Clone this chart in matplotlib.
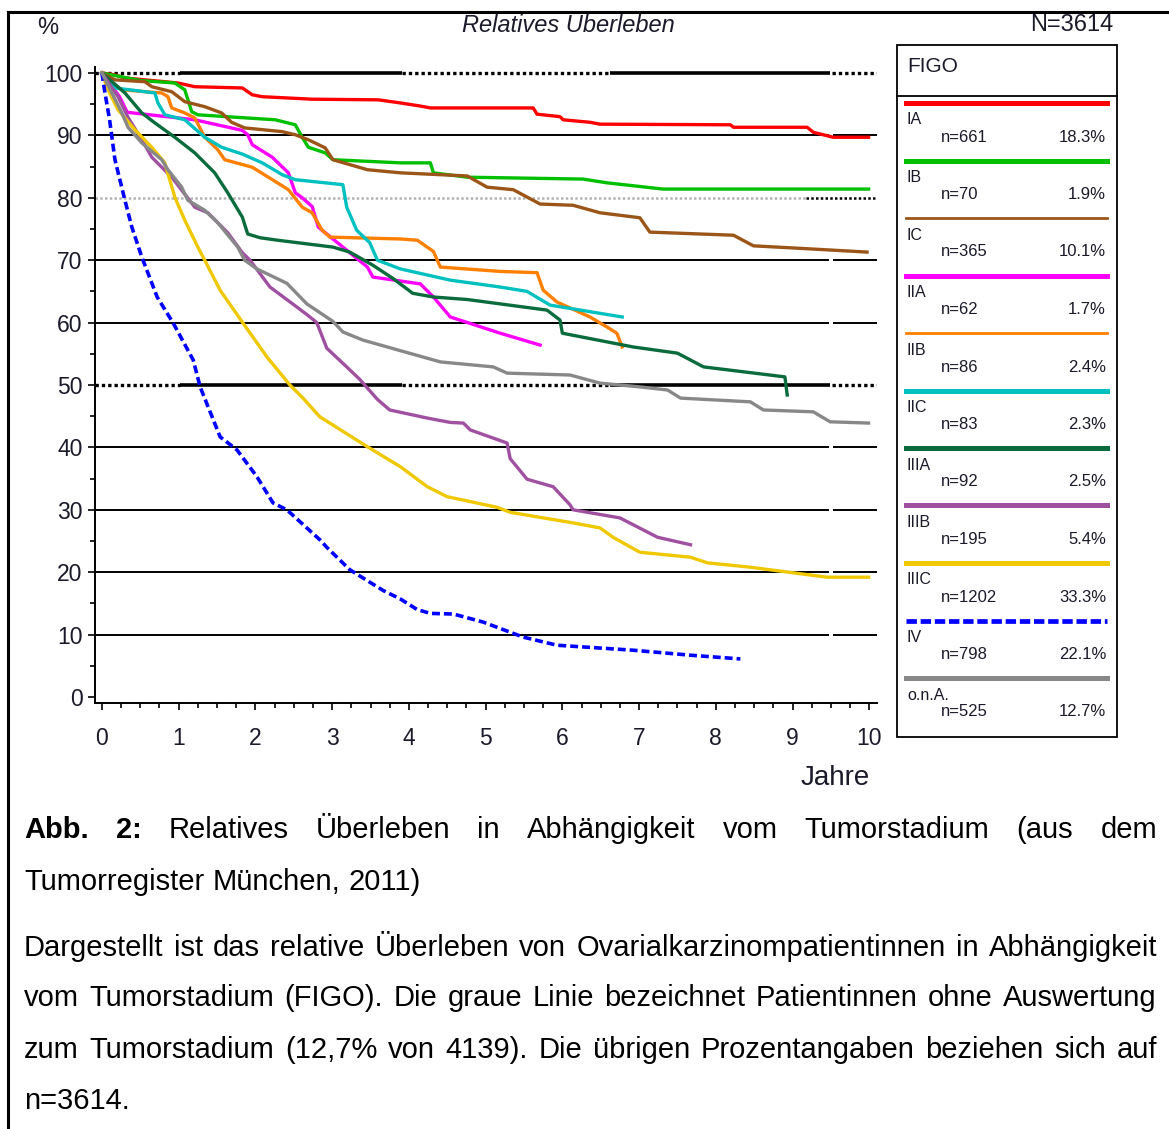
import numpy as np
import matplotlib.pyplot as plt
from matplotlib.lines import Line2D
from matplotlib.patches import Rectangle

plt.rcParams["font.family"] = ["Liberation Sans", "DejaVu Sans"]

# Relatives Ueberleben (%) ueber Jahre, je FIGO-Stadium
ia_t = [0, 0.17, 0.30, 0.99, 1.21, 1.83, 1.96, 2.09, 2.74, 3.60, 3.89, 4.15, 4.28, 5.62, 5.67, 5.97, 6.01, 6.36, 6.49, 8.19, 8.23, 9.19, 9.27, 9.53, 9.99]
ia_s = [100, 99.7, 99.2, 98.4, 97.8, 97.6, 96.5, 96.2, 95.8, 95.7, 95.2, 94.7, 94.4, 94.4, 93.4, 93.0, 92.5, 92.1, 91.8, 91.7, 91.3, 91.3, 90.5, 89.7, 89.7]

ib_t = [0, 0.5, 0.95, 1.08, 1.17, 1.25, 2.26, 2.52, 2.61, 2.69, 2.91, 3.01, 3.89, 4.28, 4.32, 4.76, 6.27, 6.58, 7.31, 9.99]
ib_s = [100, 98.8, 98.4, 97.3, 93.8, 93.3, 92.5, 91.7, 89.7, 88.1, 87.2, 86.1, 85.6, 85.6, 84.0, 83.3, 83.0, 82.4, 81.4, 81.4]

ic_t = [0, 0.17, 0.56, 0.65, 0.91, 1.08, 1.34, 1.56, 1.69, 1.86, 2.35, 2.52, 2.69, 2.91, 3.01, 3.46, 3.89, 4.76, 5.02, 5.36, 5.71, 6.14, 6.49, 7.01, 7.14, 8.23, 8.49, 9.10, 9.97]
ic_s = [100, 98.9, 98.6, 97.8, 97.0, 95.4, 94.6, 93.6, 92.1, 91.2, 90.6, 90.1, 89.3, 88.0, 86.1, 84.5, 84.0, 83.5, 81.7, 81.3, 79.0, 78.8, 77.6, 76.8, 74.5, 74.0, 72.3, 71.9, 71.3]

iia_t = [0, 0.15, 0.23, 0.33, 1.21, 1.83, 1.90, 1.96, 2.22, 2.43, 2.52, 2.61, 2.74, 2.82, 2.91, 3.46, 3.53, 4.15, 4.32, 4.54, 5.19, 5.71]
iia_s = [100, 97.5, 96.2, 93.7, 92.5, 90.8, 90.1, 88.5, 86.5, 84.0, 80.8, 80.0, 78.6, 75.3, 74.4, 68.9, 67.3, 66.2, 64.1, 60.9, 58.3, 56.4]

iib_t = [0, 0.12, 0.26, 0.78, 0.86, 0.91, 1.08, 1.21, 1.34, 1.51, 1.60, 1.96, 2.43, 2.61, 2.74, 2.87, 2.97, 3.89, 4.11, 4.32, 4.41, 5.19, 5.67, 5.75, 5.93, 6.36, 6.58, 6.71, 6.78]
iib_s = [100, 98.5, 97.3, 96.8, 96.2, 94.4, 93.6, 92.8, 89.7, 87.7, 86.1, 84.9, 81.3, 78.5, 77.6, 74.8, 73.7, 73.4, 73.2, 71.4, 68.9, 68.2, 68.0, 65.2, 63.3, 60.9, 59.3, 58.3, 56.1]

iic_t = [0, 0.17, 0.69, 0.73, 0.82, 1.08, 1.34, 1.56, 1.83, 2.09, 2.35, 2.52, 2.91, 3.14, 3.19, 3.32, 3.49, 3.59, 3.89, 4.54, 5.19, 5.54, 5.84, 6.78]
iic_s = [100, 97.6, 96.8, 95.2, 93.3, 92.5, 89.7, 88.1, 87.0, 85.6, 83.7, 82.9, 82.4, 82.1, 78.5, 74.8, 72.8, 70.0, 68.6, 66.8, 65.7, 65.0, 62.8, 60.9]

iiia_t = [0, 0.30, 0.52, 0.69, 0.95, 1.21, 1.47, 1.64, 1.83, 1.90, 2.06, 2.29, 3.01, 3.23, 3.53, 3.79, 4.05, 4.32, 4.76, 5.80, 5.97, 6.00, 6.92, 7.50, 7.84, 8.90, 8.93]
iiia_s = [100, 96.8, 93.6, 92.0, 89.7, 87.2, 84.0, 80.8, 76.9, 74.2, 73.6, 73.2, 72.1, 71.3, 69.2, 67.1, 64.7, 64.1, 63.7, 62.0, 60.4, 58.3, 56.1, 55.1, 52.9, 51.3, 48.4]

iiib_t = [0, 0.21, 0.34, 0.52, 0.65, 0.91, 1.21, 1.38, 1.64, 1.83, 1.93, 2.19, 2.54, 2.67, 2.80, 2.93, 3.19, 3.36, 3.59, 3.75, 4.24, 4.54, 4.71, 4.80, 5.28, 5.32, 5.54, 5.88, 6.10, 6.14, 6.75, 7.24, 7.67]
iiib_s = [100, 96.2, 92.9, 89.3, 86.5, 83.3, 78.5, 77.6, 74.4, 71.2, 70.0, 65.7, 62.5, 61.3, 60.0, 55.9, 52.9, 50.9, 47.7, 46.0, 44.7, 44.0, 43.9, 42.8, 40.7, 38.2, 34.9, 33.7, 30.8, 30.0, 28.7, 25.6, 24.4]

iiic_t = [0, 0.08, 0.21, 0.43, 0.65, 0.82, 0.95, 1.08, 1.25, 1.34, 1.54, 1.84, 2.15, 2.45, 2.62, 2.84, 3.46, 3.89, 4.24, 4.50, 5.15, 5.32, 6.14, 6.49, 6.66, 7.01, 7.67, 7.89, 8.45, 9.01, 9.45, 9.99]
iiic_s = [100, 97.3, 94.1, 90.9, 88.1, 85.6, 80.1, 76.4, 72.1, 70.0, 65.2, 59.9, 54.5, 50.0, 47.9, 44.9, 40.1, 36.9, 33.7, 32.1, 30.4, 29.6, 27.9, 27.1, 25.6, 23.2, 22.4, 21.5, 20.8, 19.9, 19.2, 19.2]

iv_t = [0, 0.04, 0.10, 0.17, 0.30, 0.39, 0.52, 0.72, 0.93, 1.19, 1.28, 1.54, 1.76, 2.02, 2.23, 2.41, 2.84, 2.93, 3.23, 3.66, 3.89, 4.11, 4.28, 4.58, 4.97, 5.49, 5.93, 6.92, 7.67, 8.32]
iv_s = [100, 96.8, 92.5, 86.1, 79.6, 75.3, 70.5, 64.1, 59.9, 54.0, 49.7, 41.7, 39.6, 35.3, 31.1, 30.0, 25.2, 24.0, 20.4, 17.1, 15.7, 14.0, 13.4, 13.3, 12.0, 9.6, 8.3, 7.5, 6.7, 6.1]

ona_t = [0, 0.13, 0.26, 0.34, 0.52, 0.78, 0.86, 1.04, 1.12, 1.34, 1.51, 1.77, 1.86, 2.02, 2.41, 2.67, 3.01, 3.14, 3.40, 3.89, 4.41, 5.10, 5.28, 6.10, 6.49, 7.01, 7.37, 7.54, 8.45, 8.62, 9.27, 9.49, 9.99]
ona_s = [100, 96.8, 93.6, 91.3, 88.8, 86.1, 84.5, 81.7, 79.6, 78.0, 76.0, 72.1, 70.0, 68.6, 66.3, 63.0, 60.2, 58.5, 57.2, 55.5, 53.7, 52.9, 51.9, 51.6, 50.3, 49.7, 49.2, 47.9, 47.3, 46.0, 45.7, 44.1, 43.9]

stadien = ["IA", "IB", "IC", "IIA", "IIB", "IIC", "IIIA", "IIIB", "IIIC", "IV", "o.n.A."]
n_pat = [661, 70, 365, 62, 86, 83, 92, 195, 1202, 798, 525]
anteil = ["18.3%", "1.9%", "10.1%", "1.7%", "2.4%", "2.3%", "2.5%", "5.4%", "33.3%", "22.1%", "12.7%"]
farben = ["#ff0000", "#00c000", "#9c5518", "#ff00ff", "#ff8000", "#00c0c0",
          "#0a6b3c", "#a050a0", "#f0c800", "#0000ff", "#888888"]
kurven = [(ia_t, ia_s), (ib_t, ib_s), (ic_t, ic_s), (iia_t, iia_s), (iib_t, iib_s),
          (iic_t, iic_s), (iiia_t, iiia_s), (iiib_t, iiib_s), (iiic_t, iiic_s),
          (iv_t, iv_s), (ona_t, ona_s)]

TXT = "#1a1a2a"
W, H = 1169, 1129


def fx(px):
    return px / W


def fy(py):
    return 1 - py / H


fig = plt.figure(figsize=(W / 100, H / 100), dpi=100)
ax = fig.add_axes([fx(95), fy(703), fx(877) - fx(95), fy(67) - fy(703)])
ax.set_xlim(-0.09, 10.1)
ax.set_ylim(-0.96, 100.96)

# Gitterlinien
dot = (0, (1, 0.9))
for y in [10, 20, 30, 40, 60, 70, 90]:
    ax.hlines(y, -0.09, 9.48, color="black", lw=1.4, zorder=1)
    ax.hlines(y, 9.53, 10.1, color="black", lw=1.4, zorder=1)
for y in [50, 100]:
    for a, b in [(-0.09, 1.02), (3.91, 6.62), (9.51, 10.1)]:
        ax.hlines(y, a, b, color="black", lw=2.4, linestyles=dot, zorder=1)
    for a, b in [(1.02, 3.91), (6.62, 9.49)]:
        ax.hlines(y, a, b, color="black", lw=2.6, zorder=1)
ax.hlines(80, -0.09, 9.17, color="#b4b4b4", lw=1.8, linestyles=dot, zorder=1)
ax.hlines(80, 9.17, 10.1, color="black", lw=1.8, linestyles=dot, zorder=1)

# Kurven
for i, (t, s) in enumerate(kurven):
    if stadien[i] == "IV":
        ax.plot(t, s, color=farben[i], lw=2.6, ls=(0, (2.2, 1.1)), zorder=3)
    else:
        ax.plot(t, s, color=farben[i], lw=2.4, zorder=3, solid_joinstyle="round")

for sp in ["top", "right"]:
    ax.spines[sp].set_visible(False)
for sp in ["left", "bottom"]:
    ax.spines[sp].set_linewidth(1.4)
ax.set_xticks(range(11))
ax.set_xticks(np.arange(0, 10.01, 0.25), minor=True)
ax.set_yticks(range(0, 101, 10))
ax.set_yticks(range(5, 100, 10), minor=True)
ax.tick_params(which="major", length=5, width=1.2, labelsize=16.5, labelcolor=TXT)
ax.tick_params(which="minor", length=3.5, width=1.2)
ax.tick_params(axis="x", pad=12)
ax.tick_params(axis="y", pad=4)

fig.text(fx(48), fy(28), "%", ha="center", va="center", fontsize=17, color=TXT)
fig.text(fx(568), fy(25), "Relatives Uberleben", style="italic", ha="center",
         va="center", fontsize=17, color=TXT)
fig.text(fx(1113), fy(25), "N=3614", ha="right", va="center", fontsize=17, color=TXT)
fig.text(fx(835), fy(778), "Jahre", ha="center", va="center", fontsize=20, color=TXT)

# Legende
fig.add_artist(Rectangle((fx(897), fy(737)), fx(1117) - fx(897), fy(45) - fy(737),
                         transform=fig.transFigure, fill=False, ec="black", lw=1.3))
fig.add_artist(Line2D([fx(897), fx(1117)], [fy(96), fy(96)], color="black", lw=1.3))
fig.text(fx(907), fy(67), "FIGO", ha="left", va="center", fontsize=15, color=TXT)
for i, st in enumerate(stadien):
    y0 = 103 + 57.5 * i
    if st == "IV":
        ln = Line2D([fx(906), fx(1107)], [fy(y0), fy(y0)], color=farben[i], lw=3.4,
                    ls=(0, (2.2, 0.8)))
    elif st in ("IC", "IIB"):
        ln = Line2D([fx(906), fx(1107)], [fy(y0), fy(y0)], color=farben[i], lw=2.0)
    else:
        ln = Line2D([fx(906), fx(1107)], [fy(y0), fy(y0)], color=farben[i], lw=3.6)
    fig.add_artist(ln)
    fig.text(fx(907), fy(y0 + 17), st, ha="left", va="center", fontsize=11.5, color=TXT)
    fig.text(fx(941), fy(y0 + 34), "n=%d" % n_pat[i], ha="left", va="center",
             fontsize=12, color=TXT)
    fig.text(fx(1106), fy(y0 + 34), anteil[i], ha="right", va="center",
             fontsize=12, color=TXT)

# Rahmen
fig.add_artist(Line2D([fx(8), fx(8)], [fy(12), 0], color="black", lw=2.2))
fig.add_artist(Line2D([fx(8), 1], [fy(12), fy(12)], color="black", lw=2.2))

# Bildunterschrift, Blocksatz
renderer = fig.canvas.get_renderer()


def zeile(woerter, ypx, block=True, size=21):
    arts = []
    for w, fett in woerter:
        arts.append(fig.text(0, fy(ypx), w, fontsize=size, va="center", ha="left",
                             fontweight="bold" if fett else "normal", color="black"))
    breiten = [a.get_window_extent(renderer).width for a in arts]
    if block and len(arts) > 1:
        luecke = (1157 - 24 - sum(breiten)) / (len(arts) - 1)
    else:
        luecke = size * 100 / 72 * 0.278
    x = 24
    for a, b in zip(arts, breiten):
        a.set_x(fx(x))
        x += b + luecke


def normal(s):
    return [(w, False) for w in s.split()]


zeile([("Abb.", True), ("2:", True)]
      + normal("Relatives Überleben in Abhängigkeit vom Tumorstadium (aus dem"), 830)
zeile(normal("Tumorregister München, 2011)"), 882, block=False)
zeile(normal("Dargestellt ist das relative Überleben von Ovarialkarzinompatientinnen in Abhängigkeit"), 948)
zeile(normal("vom Tumorstadium (FIGO). Die graue Linie bezeichnet Patientinnen ohne Auswertung"), 998)
zeile(normal("zum Tumorstadium (12,7% von 4139). Die übrigen Prozentangaben beziehen sich auf"), 1050)
zeile(normal("n=3614."), 1101, block=False)

fig.savefig("out.png", dpi=100)
